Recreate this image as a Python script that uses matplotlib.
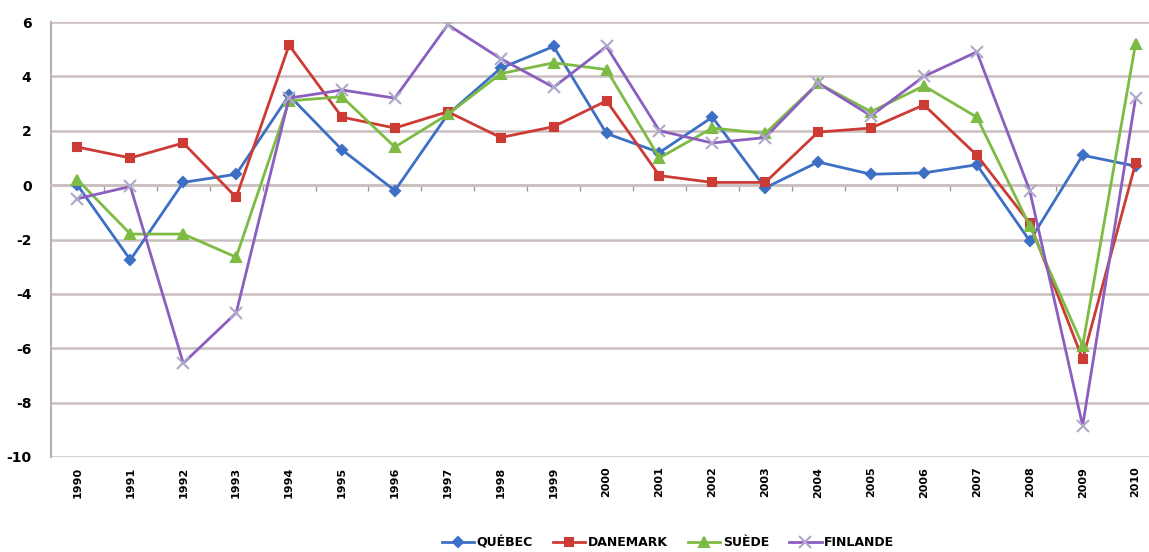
import matplotlib
matplotlib.use("Agg")
import matplotlib.pyplot as plt
from matplotlib.ticker import FixedLocator, NullFormatter

plt.rcParams["axes.unicode_minus"] = False

years = [str(y) for y in range(1990, 2011)]

quebec = [0.0, -2.75, 0.1, 0.4, 3.3, 1.3, -0.2, 2.6, 4.3, 5.1, 1.9,
          1.2, 2.5, -0.1, 0.85, 0.4, 0.45, 0.75, -2.05, 1.1, 0.7]
danemark = [1.4, 1.0, 1.55, -0.45, 5.15, 2.5, 2.1, 2.7, 1.75, 2.15, 3.1,
            0.35, 0.1, 0.1, 1.95, 2.1, 2.95, 1.1, -1.4, -6.4, 0.8]
suede = [0.2, -1.8, -1.8, -2.65, 3.1, 3.25, 1.4, 2.6, 4.1, 4.5, 4.25,
         1.0, 2.1, 1.9, 3.75, 2.7, 3.65, 2.5, -1.5, -5.9, 5.2]
finlande = [-0.5, -0.05, -6.55, -4.7, 3.2, 3.5, 3.2, 5.9, 4.65, 3.6, 5.1,
            2.0, 1.55, 1.75, 3.75, 2.55, 4.0, 4.9, -0.2, -8.85, 3.2]

series = [
    ("QUÉBEC", quebec, "#3d6fc4", "D", 5.5),
    ("DANEMARK", danemark, "#cc3b34", "s", 6),
    ("SUÈDE", suede, "#7dbb45", "^", 7),
    ("FINLANDE", finlande, "#8a5fc0", "x", 8),
]

fig = plt.figure(figsize=(11.49, 5.52), dpi=100)
ax = fig.add_axes([51 / 1149, 1 - 457 / 552, 1111 / 1149, (457 - 22) / 552])

x = list(range(len(years)))
for name, vals, col, mk, ms in series:
    ax.plot(x, vals, color=col, lw=2.0, marker=mk, ms=ms,
            mec=col if mk != "x" else "#b0a8c8", mew=1.5, label=name,
            zorder=3)

ax.set_xlim(-0.5, len(years) - 0.5)
ax.set_ylim(-10, 6)
ax.set_yticks(range(-10, 7, 2))
ax.yaxis.grid(True, color="#c9bfbf", lw=1.8, zorder=0)
ax.set_axisbelow(True)

for s in ["top", "right"]:
    ax.spines[s].set_visible(False)
ax.spines["left"].set_color("#b8b0b0")
ax.spines["left"].set_linewidth(1.5)
ax.spines["bottom"].set_position(("data", 0))
ax.spines["bottom"].set_color("#c9bfbf")
ax.spines["bottom"].set_linewidth(1.8)

ax.xaxis.set_major_locator(FixedLocator([i + 0.5 for i in x[:-1]]))
ax.xaxis.set_major_formatter(NullFormatter())
ax.tick_params(axis="x", direction="out", length=4, color="#999999", width=1)
ax.tick_params(axis="y", length=0, pad=14)
for lab in ax.get_yticklabels():
    lab.set_fontweight("bold")
    lab.set_fontsize(10)

sec = ax.secondary_xaxis(-0.0)
sec.set_xticks(x)
sec.set_xticklabels(years, rotation=90, fontsize=8, fontweight="bold")
sec.tick_params(length=0, pad=7)
sec.spines["bottom"].set_visible(False)

leg = fig.legend(loc="center", bbox_to_anchor=(668 / 1149, 1 - 543 / 552), ncol=4,
                 frameon=False, prop={"weight": "bold", "size": 9},
                 handlelength=2.6, columnspacing=1.6, handletextpad=0.2)

fig.savefig("out.png", dpi=100)
